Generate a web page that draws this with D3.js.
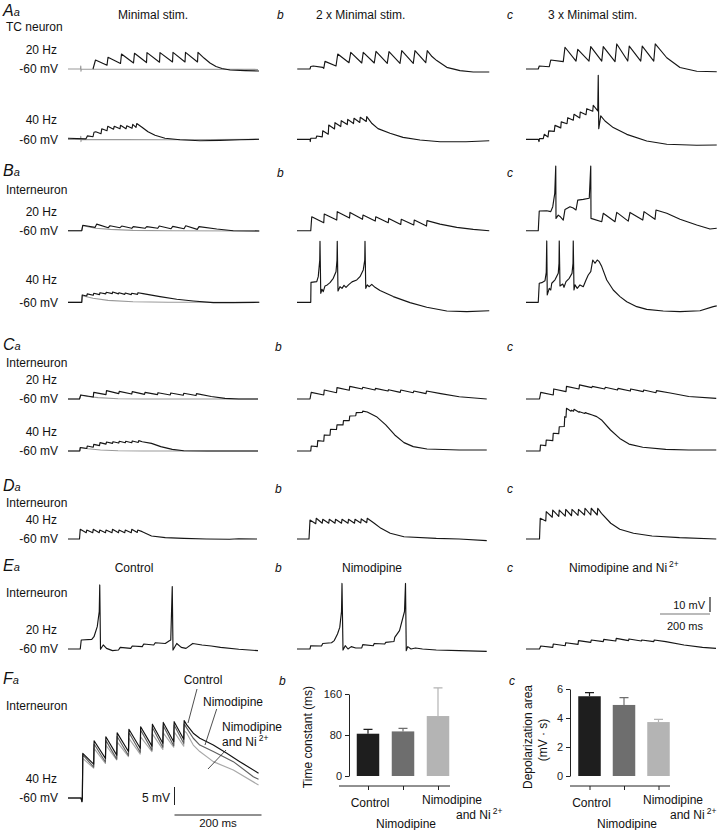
<!DOCTYPE html>
<html>
<head>
<meta charset="utf-8">
<script src="https://cdn.jsdelivr.net/npm/d3@7"></script>
<style>
body { margin: 0; background: #fff; }
svg { font-family: "Liberation Sans", Arial, sans-serif; }
.trace { fill: none; stroke-width: 1.15; stroke-linejoin: round; }
.axis text { font-size: 11px; fill: #222; }
.axis path, .axis line { stroke: #222; }
</style>
</head>
<body>
<svg width="720" height="830"></svg>
<script>
// every trace: [time (ms), depolarisation (mV above the -60 mV rest)]

// A  TC neuron
var A20a_gray = [[0,0],[50,0],[51,2],[52,-1.5],[53,0],[760,-0.3]];
var A20a = [[100,0],[110,6],[156,2.5],[160,7.8],[210,3.7],[214,10],[262,4],[266,10.5],[314,4.3],[316,10.9],[366,4.5],[368,10.9],[418,4.7],[420,11.1],[468,4.7],[470,11.1],[518,4.7],[520,11.1],[544,7.3],[568,4],[592,1.7],[616,0.3],[648,-0.7],[708,-1.1],[764,-1.3]];
var A40a_gray = [[0,0],[50,0],[51,2],[52,-1.5],[53,0],[400,-0.3],[764,0]];
var A40a = [[0,0.7],[72,0.3],[78,2.3],[100,1.7],[104,4.7],[111,5],[132,3.7],[135,7],[156,5.7],[159,8.7],[182,6.7],[185,8.7],[208,7],[210,9.3],[232,7],[235,9],[256,7.3],[259,10],[272,8],[275,10.5],[296,8],[320,5],[348,2.7],[388,0.7],[448,-0.3],[528,-1],[608,-0.7],[688,-0.3],[764,0]];
var A20b = [[1,0],[52,0],[55,1.7],[65,2],[103,1.1],[107,0.4],[112,5.1],[156,2],[163,10],[208,4.2],[215,11.1],[259,4],[265,11.1],[309,4],[316,11.8],[361,3.8],[368,11.6],[412,3.8],[419,12.2],[465,3.8],[472,12.2],[515,4.2],[521,12.2],[540,8.3],[559,5.6],[599,1.1],[652,-1.1],[705,-2],[769,-2]];
var A40b = [[0,0],[52,0],[53,-1.5],[55,0.7],[76,0.7],[79,2.2],[101,1.6],[103,5.7],[125,3.4],[127,9.5],[150,6.9],[152,11.1],[175,8.5],[177,12.4],[201,9.8],[203,13.3],[226,10.5],[228,14],[251,11.2],[253,14.7],[277,11.9],[279,15.1],[300,10.5],[324,7.1],[372,4],[424,1.3],[492,-0.5],[572,-1.6],[676,-1.6],[769,-1]];
var A20c = [[0,0],[49,0],[53,2],[93,1.5],[99,6],[149,4.9],[156,14.5],[200,5.3],[207,13.1],[252,5.3],[259,14.9],[303,5.3],[309,14.9],[356,4.9],[363,16.7],[407,5.3],[413,15.3],[459,5.3],[465,15.3],[511,5.3],[517,16.7],[563,7.5],[616,1],[683,-1.5],[763,-1.8]];
var A40c = [[0,0],[49,0],[52,-1.5],[54,0.5],[69,0.5],[73,3.3],[88,1.6],[91,5.6],[113,5.3],[116,9.3],[139,7.6],[141,11.6],[164,10.4],[167,14.4],[189,12.7],[192,16.7],[215,14.2],[217,18.2],[240,16.4],[243,20.4],[267,18.7],[269,22.7],[287,19],[289,42.7],[291,7.1],[299,15.6],[316,12.2],[349,7.8],[403,3.3],[483,-1.1],[563,-3.3],[683,-4],[763,-3.8]];

// B  interneuron
var B20a_gray = [[0,0],[55,0],[59,3.3],[110,1.6],[170,0.9],[260,0.2],[400,0],[765,-0.2]];
var B20a = [[0,0],[55,0],[59,3.6],[108,2.2],[115,4.4],[161,2],[168,3.3],[208,2],[215,3.1],[255,1.6],[261,2.7],[308,1.6],[315,2.7],[359,1.6],[365,3.1],[412,1.3],[419,2.9],[464,1.3],[471,3.3],[517,0.9],[524,2.7],[595,1.1],[661,0],[765,-0.2]];
var B40a_gray = [[0,0],[55,0],[57,4.4],[100,2.7],[160,1.3],[260,0.4],[400,0],[765,0]];
var B40a = [[0,0],[55,0],[57,4.9],[75,4.2],[77,5.6],[101,4.7],[103,6],[126,5.1],[128,6.4],[151,5.6],[153,6.7],[177,5.8],[179,6.9],[202,5.6],[204,6.4],[227,5.3],[229,6.2],[253,5.1],[255,6],[278,5.3],[280,6.4],[300,5.8],[368,3.8],[435,2],[501,0.9],[581,-0.2],[661,-0.2],[765,0]];
var B20b = [[0,0],[55,0],[59,9.3],[107,5.3],[109,11.1],[159,7.1],[161,12.7],[210,8.4],[212,12.2],[262,7.6],[264,10.4],[313,6.4],[315,9.3],[365,5.3],[367,8.2],[415,4.2],[417,7.6],[467,3.8],[469,7.1],[518,3.1],[520,6.7],[572,4.4],[639,2.2],[705,0.9],[769,0]];
var B40b = [[0,0],[55,0],[56,13.3],[79,13.8],[85,17.1],[91,28.2],[92,40.7],[95,6],[100,8.7],[105,7.1],[112,10.9],[121,11.6],[132,13.1],[145,16],[156,20.4],[160,28.2],[161,40.7],[164,7.6],[172,10.4],[180,9.3],[188,11.3],[196,10],[207,11.8],[220,13.6],[239,14.9],[252,17.1],[265,21.6],[271,28.2],[272,40.7],[275,9.3],[281,11.6],[289,10.4],[299,12],[312,10],[332,7.8],[385,3.8],[452,-0.2],[519,-3.3],[599,-5.8],[679,-6.2],[769,-5.6]];
var B20c = [[0,0],[49,0],[53,13.1],[83,13.3],[99,12.7],[107,16],[115,24.9],[119,43.1],[120,8.2],[129,10.4],[136,9.5],[149,7.1],[156,14.2],[176,16],[189,15.1],[200,13.8],[207,20.4],[229,20.9],[253,21.6],[259,43.1],[260,8.2],[303,6],[309,11.6],[356,6],[363,12.2],[409,6.4],[416,12.2],[467,7.1],[472,12.7],[516,7.6],[520,13.8],[563,11.6],[616,7.6],[683,3.8],[736,1.1],[763,1.6]];
var B40c = [[0,0],[49,0],[53,12.7],[63,13.1],[76,14.4],[81,20],[83,40.9],[85,4.9],[93,9.3],[99,8.2],[103,12.7],[116,15],[129,19.3],[132,26],[133,40.9],[136,10.9],[147,12.2],[152,10],[160,13.8],[173,16],[184,19.3],[188,26],[189,40.9],[192,8.2],[196,11.6],[205,9.3],[216,11.6],[229,10.4],[240,14.9],[249,18.2],[259,20.4],[267,28.2],[276,26],[285,28.2],[293,27.1],[303,23.8],[323,14.9],[349,8.2],[376,3.8],[403,0.4],[443,-2.9],[483,-4.7],[549,-5.8],[616,-6.2],[696,-5.6],[749,-2.9],[763,-2.4]];

// C  interneuron
var C20a_gray = [[0,0],[46,0],[51,2.5],[80,1.7],[120,0.9],[200,0.2],[300,0],[760,0]];
var C20a = [[0,0],[46,0],[51,2.7],[101,1.3],[103,4.4],[152,2.9],[154,5.6],[203,3.6],[205,5.1],[255,3.3],[257,4.9],[306,3.1],[308,4.4],[358,2.9],[360,4.2],[409,2.7],[411,4],[461,2.5],[463,3.8],[512,2.3],[514,3.6],[573,1.7],[628,0.4],[683,0],[760,0]];
var C40a_gray = [[0,0],[47,0],[49,2.3],[80,1.5],[130,0.7],[200,0.2],[300,0],[760,0]];
var C40a = [[0,0],[47,0],[49,2.3],[75,1.7],[77,3.3],[101,2.5],[103,4.4],[126,3.6],[128,5.6],[152,4.6],[154,6],[178,5.1],[180,6.2],[203,5.3],[205,6.5],[229,5.5],[231,6.5],[255,5.5],[257,6.7],[281,5.7],[283,6.9],[297,6.2],[334,5.1],[371,2.9],[417,1.1],[463,0.2],[560,0],[760,0]];
var C20b = [[0,0],[52,0],[57,4.4],[107,2.7],[109,6],[158,4.2],[160,7.6],[209,5.8],[211,8.4],[261,6.7],[263,7.8],[312,6],[314,7.1],[364,5.3],[366,6.2],[413,4.4],[415,6],[465,4.2],[467,5.3],[516,3.6],[518,5.3],[575,3.6],[649,1.5],[759,0]];
var C40b = [[0,0],[55,0],[57,3.3],[81,2.9],[83,6.9],[107,6.5],[109,10.7],[132,10.5],[134,14.4],[158,14.3],[160,17.4],[184,17.4],[186,20.3],[209,20.3],[211,23.3],[235,23.5],[237,25.6],[261,25.7],[263,26.6],[281,26],[318,22.9],[355,17.4],[391,10.7],[428,5.6],[465,2.9],[520,1.3],[649,0.7],[759,0.7]];
var C20c = [[0,0],[54,0],[59,4.4],[109,2.7],[111,6.7],[160,4.9],[162,8.4],[212,6.7],[214,9.4],[263,7.6],[265,8.4],[315,6.7],[317,7.8],[366,6],[368,7.1],[417,5.3],[419,6.7],[469,4.9],[471,6],[520,4.2],[522,5.6],[577,4],[651,1.7],[761,0.4]];
var C40c = [[0,0],[56,0],[58,4],[79,3.6],[81,7.3],[107,6.9],[109,11.8],[131,11.6],[133,16.2],[153,16.3],[155,22.9],[160,22.5],[162,28.5],[180,26.5],[182,27.2],[190,26.5],[192,27.8],[212,25.8],[214,26.2],[235,25],[237,25.6],[245,25.1],[265,24],[283,22.9],[302,20.7],[338,14],[375,8.4],[412,4.6],[467,2.5],[559,1.1],[651,0.7],[761,0.7]];

// D  interneuron, 40 Hz
var Da = [[0,0],[46,0],[49,6.5],[73,4.2],[75,6],[99,4.2],[101,6.5],[125,4.2],[127,6],[150,4.2],[152,6],[176,4.2],[178,6.5],[202,4.2],[204,6],[227,4.2],[229,6],[253,4.2],[255,6.5],[277,4.4],[279,6],[297,4.9],[334,2],[389,0.9],[463,0.4],[554,0],[646,-0.2],[683,0.2],[756,0]];
var Db = [[0,0],[48,0],[52,12.6],[75,10.2],[77,13.8],[101,10.5],[103,13.1],[127,10.5],[129,13.1],[152,10.5],[154,13.1],[178,10.5],[180,13.1],[204,10.5],[206,13.1],[230,10.5],[232,13.1],[255,10.7],[257,13.4],[279,10.9],[281,13.8],[309,10.5],[336,7.1],[373,3.8],[428,1.5],[557,0.4],[649,0],[759,-1.1]];
var Dc = [[0,0],[54,0],[57,13.8],[79,12],[81,18.2],[105,14.5],[107,19.3],[131,15.1],[133,19.3],[157,15.3],[159,19.7],[182,15.5],[184,19.7],[208,15.8],[210,19.7],[234,16],[236,20.5],[259,16],[261,20.5],[285,16],[287,20.5],[302,17.1],[339,10.5],[375,6.5],[430,3.8],[504,2],[614,0.9],[761,0]];

// E  interneuron, 20 Hz: control, nimodipine, nimodipine + Ni2+
var Ea = [[0,0],[49,0],[53,6],[95,6.4],[104,8.2],[117,14.9],[125,25],[127,42.7],[130,-0.2],[141,2.7],[154,0.4],[178,-1.1],[202,-0.7],[209,1.1],[251,0.4],[257,2],[297,1.6],[303,3.3],[343,2.7],[349,4.2],[389,3.7],[404,5.4],[411,6],[417,41.6],[420,-0.7],[435,3.7],[453,1.1],[472,0.4],[499,3.7],[536,2.7],[573,2],[610,1.1],[683,-0.2],[760,-1.1]];
var Eb = [[0,0],[52,0],[55,2.2],[98,2],[103,3.7],[138,4.2],[149,5.6],[162,10],[171,14.4],[178,25],[180,43.7],[184,-0.7],[193,2.2],[204,0],[217,1.6],[235,0.7],[259,0.7],[263,2.9],[305,2.2],[309,3.7],[351,3.3],[355,4.4],[388,5],[391,7.7],[410,12.2],[430,25],[434,43.7],[437,-1.1],[443,1.6],[456,0],[474,0.7],[502,0],[557,-0.7],[649,-1.1],[759,-1.6]];
var Ec = [[0,0],[54,0],[59,2],[107,1.1],[109,3.3],[157,2.2],[159,4.2],[208,3.1],[210,5.6],[259,4.4],[261,6],[309,4.9],[311,6.4],[359,5.3],[361,7.1],[410,5.6],[412,6.7],[461,5.3],[463,6],[511,4.9],[513,6],[559,4.9],[632,2.7],[706,1.1],[760,0.4]];

// F  interneuron, 40 Hz overlay
var Fcontrol = [[0,0],[30,0],[32,-1],[33,0],[34,12.4],[59,9.4],[60,15.9],[86,11],[87,17],[112,11.9],[113,18.1],[139,12.9],[140,19.1],[166,13.8],[167,19.8],[193,14.4],[194,20.5],[218,15.2],[219,21],[243,15.6],[244,21.2],[266,16.3],[267,21.5],[273,20.3],[288,18],[303,16.6],[334,14.7],[365,12.4],[395,10.1],[438,6.9]];
var Fnimodipine = [[0,0],[30,0],[32,-1],[33,0],[34,12],[59,8.6],[60,15],[86,10],[87,16],[112,10.8],[113,17.1],[139,11.8],[140,18.2],[166,12.7],[167,18.9],[193,13.3],[194,19.6],[218,14.1],[219,20.1],[243,14.5],[244,20.3],[266,15.2],[267,20.6],[273,19.4],[288,16.6],[303,14.7],[334,12.9],[380,10.1],[426,5.9],[438,5.2]];
var Fnickel = [[0,0],[30,0],[32,-1],[33,0],[34,11],[59,8.3],[60,13.8],[86,9.6],[87,14.7],[112,10.6],[113,15.6],[139,11.5],[140,16.6],[166,12.2],[167,17],[193,12.9],[194,17.8],[218,13.5],[219,18.1],[243,14.1],[244,18.4],[266,14.4],[267,18.7],[273,18],[288,14.7],[303,12.9],[334,10.1],[380,7.8],[438,3.6]];

// bar charts
var drugs = ["Control", "Nimodipine", "Nimodipine and Ni2+"];
var tauMean = [82.5, 87, 117];
var tauSem = [8.5, 6, 55];
var areaMean = [5.5, 4.9, 3.72];
var areaSem = [0.25, 0.5, 0.18];
var tauTicks = [0, 80, 160];
var areaTicks = [0, 2, 4, 6];

var BLACK = "#161616", GRAY = "#9a9a9a";
var barColors = ["#1e1e1e", "#6e6e6e", "#b4b4b4"];
var fColors = ["#111111", "#5e5e5e", "#a8a8a8"];

var svg = d3.select("svg");
var colX = [68, 297, 526];

// A-E share one scale: 200 ms = 50 px, 10 mV = 15 px
var xTime = d3.scaleLinear().domain([0, 768]).range([0, 192]);

function drawTrace(data, x0, base, color, xs, mvPx) {
    var y = d3.scaleLinear().domain([0, 10]).range([base, base - 10 * mvPx]);
    var line = d3.line()
        .x(function(d) { return x0 + xs(d[0]); })
        .y(function(d) { return y(d[1]); });
    svg.append("path")
        .attr("class", "trace")
        .attr("stroke", color)
        .attr("d", line(data));
}

function text(x, y, s, opt) {
    opt = opt || {};
    var t = svg.append("text")
        .attr("x", x).attr("y", y)
        .attr("font-size", opt.size || 12)
        .attr("text-anchor", opt.anchor || "start")
        .attr("fill", "#111")
        .text(s);
    if (opt.italic) t.attr("font-style", "italic");
    return t;
}

function panelLetter(x, y, big, small) {
    var t = svg.append("text").attr("x", x).attr("y", y)
        .attr("font-style", "italic").attr("fill", "#111");
    t.append("tspan").attr("font-size", 16).text(big);
    t.append("tspan").attr("font-size", 11).text(small);
}

function niText(x, y, before, anchor) {
    var t = svg.append("text").attr("x", x).attr("y", y)
        .attr("font-size", 12).attr("fill", "#111")
        .attr("text-anchor", anchor || "start");
    t.append("tspan").text(before + "Ni");
    t.append("tspan").attr("font-size", 8.5).attr("dy", -5).attr("dx", 2).text("2+");
    return t;
}

function rowLabels(yHz, hz, yMv) {
    text(57, yHz, hz, {anchor: "end"});
    text(58, yMv, "-60 mV", {anchor: "end"});
}

var rows = [
    {base: 69, traces: [[A20a_gray, 0, GRAY], [A20a, 0, BLACK], [A20b, 1, BLACK], [A20c, 2, BLACK]]},
    {base: 139.3, traces: [[A40a_gray, 0, GRAY], [A40a, 0, BLACK], [A40b, 1, BLACK], [A40c, 2, BLACK]]},
    {base: 230.7, traces: [[B20a_gray, 0, GRAY], [B20a, 0, BLACK], [B20b, 1, BLACK], [B20c, 2, BLACK]]},
    {base: 302.3, traces: [[B40a_gray, 0, GRAY], [B40a, 0, BLACK], [B40b, 1, BLACK], [B40c, 2, BLACK]]},
    {base: 399, traces: [[C20a_gray, 0, GRAY], [C20a, 0, BLACK], [C20b, 1, BLACK], [C20c, 2, BLACK]]},
    {base: 451, traces: [[C40a_gray, 0, GRAY], [C40a, 0, BLACK], [C40b, 1, BLACK], [C40c, 2, BLACK]]},
    {base: 539, traces: [[Da, 0, BLACK], [Db, 1, BLACK], [Dc, 2, BLACK]]},
    {base: 649, traces: [[Ea, 0, BLACK], [Eb, 1, BLACK], [Ec, 2, BLACK]]}
];
rows.forEach(function(r) {
    r.traces.forEach(function(t) {
        drawTrace(t[0], colX[t[1]], r.base, t[2], xTime, 1.5);
    });
});

// ---- labels rows A-E
panelLetter(3, 16, "A", "a");
text(6, 31, "TC neuron");
text(153, 19, "Minimal stim.", {anchor: "middle"});
text(277, 19, "b", {italic: true});
text(316, 19, "2 x Minimal stim.");
text(507, 19, "c", {italic: true});
text(548, 19, "3 x Minimal stim.");
rowLabels(53.5, "20 Hz", 73);
rowLabels(123.5, "40 Hz", 143.5);

panelLetter(3, 176, "B", "a");
text(6, 194, "Interneuron");
text(277, 177, "b", {italic: true});
text(507, 177, "c", {italic: true});
rowLabels(216, "20 Hz", 235);
rowLabels(283.5, "40 Hz", 306.5);

panelLetter(3, 350, "C", "a");
text(6, 367, "Interneuron");
text(275, 351, "b", {italic: true});
text(507, 351, "c", {italic: true});
rowLabels(384, "20 Hz", 403);
rowLabels(436, "40 Hz", 455);

panelLetter(3, 491, "D", "a");
text(6, 507, "Interneuron");
text(275, 493, "b", {italic: true});
text(507, 493, "c", {italic: true});
rowLabels(524, "40 Hz", 543);

panelLetter(3, 571, "E", "a");
text(134, 572, "Control", {anchor: "middle"});
text(275, 572, "b", {italic: true});
text(372, 572, "Nimodipine", {anchor: "middle"});
text(507, 572, "c", {italic: true});
niText(569, 572, "Nimodipine and ");
text(6, 597, "Interneuron");
rowLabels(634, "20 Hz", 653);

// E scale bar: 10 mV and 200 ms
var barX = 710;
var yBar = d3.scaleLinear().domain([0, 10]).range([612, 597]);
svg.append("line").attr("x1", barX).attr("x2", barX).attr("y1", yBar(0)).attr("y2", yBar(10))
    .attr("stroke", "#222").attr("stroke-width", 1.2);
svg.append("line").attr("x1", barX - xTime(200)).attr("x2", barX).attr("y1", 614).attr("y2", 614)
    .attr("stroke", "#777").attr("stroke-width", 1.2);
text(barX - 5, 609, "10 mV", {anchor: "end", size: 11});
text(barX - xTime(100), 630, "200 ms", {anchor: "middle", size: 11});

// ---- F a : overlay, own scale (200 ms = 87 px, 5 mV = 18 px)
var fx0 = 68, fBase = 798;
var xF = d3.scaleLinear().domain([0, 200]).range([0, 87]);
drawTrace(Fnickel, fx0, fBase, fColors[2], xF, 3.6);
drawTrace(Fnimodipine, fx0, fBase, fColors[1], xF, 3.6);
drawTrace(Fcontrol, fx0, fBase, fColors[0], xF, 3.6);

panelLetter(3, 684, "F", "a");
text(6, 710, "Interneuron");
rowLabels(783, "40 Hz", 802);
text(203, 684, "Control", {anchor: "middle"});
text(203, 706, "Nimodipine");
text(222, 731, "Nimodipine");
niText(222, 746, "and ");
[[197, 689, 188, 723], [216.7, 709, 205, 745], [226, 750, 208, 769]].forEach(function(p) {
    svg.append("line").attr("x1", p[0]).attr("y1", p[1]).attr("x2", p[2]).attr("y2", p[3])
        .attr("stroke", "#222").attr("stroke-width", 0.8);
});
var yFbar = d3.scaleLinear().domain([0, 5]).range([805, 787]);
svg.append("line").attr("x1", 174.5).attr("x2", 174.5).attr("y1", yFbar(0)).attr("y2", yFbar(5))
    .attr("stroke", "#222").attr("stroke-width", 1);
svg.append("line").attr("x1", 174.5).attr("x2", 174.5 + xF(200)).attr("y1", 815).attr("y2", 815)
    .attr("stroke", "#222").attr("stroke-width", 1);
text(170, 802, "5 mV", {anchor: "end"});
text(174.5 + xF(100), 827, "200 ms", {anchor: "middle", size: 11.5});

// ---- F b, F c : bar charts
function barChart(opt) {
    var y = d3.scaleLinear().domain(opt.domain).range([776, opt.top]);
    var x = d3.scalePoint().domain(drugs).range(opt.xRange);
    var bw = 22.5;
    var g = svg.append("g");
    g.selectAll(".err").data(drugs).enter().append("path")
        .attr("fill", "none").attr("stroke", function(d, i) { return barColors[i]; })
        .attr("stroke-width", 1.2)
        .attr("d", function(d, i) {
            var cx = x(d), top = y(opt.mean[i] + opt.sem[i]);
            return "M" + cx + "," + y(opt.mean[i]) + "V" + top + "M" + (cx - 4.5) + "," + top + "H" + (cx + 4.5);
        });
    g.selectAll(".bar").data(drugs).enter().append("rect")
        .attr("x", function(d) { return x(d) - bw / 2; })
        .attr("width", bw)
        .attr("y", function(d, i) { return y(opt.mean[i]); })
        .attr("height", function(d, i) { return 776 - y(opt.mean[i]); })
        .attr("fill", function(d, i) { return barColors[i]; });
    svg.append("g").attr("class", "axis")
        .attr("transform", "translate(" + opt.yAxisX + ",0)")
        .call(d3.axisLeft(y).tickValues(opt.ticks).tickFormat(d3.format("d"))
            .tickSize(4).tickSizeOuter(0).tickPadding(3));
    var xa = svg.append("g").attr("class", "axis")
        .attr("transform", "translate(0,786)")
        .call(d3.axisBottom(x).tickSize(4).tickFormat(""));
    xa.select(".domain").remove();
    svg.append("line").attr("x1", opt.xLine[0]).attr("x2", opt.xLine[1])
        .attr("y1", 786).attr("y2", 786).attr("stroke", "#222");
    text(x(drugs[0]) + 2, 807, "Control", {anchor: "middle"});
    text(x(drugs[1]) + 3, 828, "Nimodipine", {anchor: "middle"});
    text(opt.nimX, 804, "Nimodipine");
    niText(opt.niX, 819, "and ");
}

text(279, 685, "b", {italic: true});
barChart({domain: [0, 160], top: 694, xRange: [368, 438], mean: tauMean, sem: tauSem,
          ticks: tauTicks, yAxisX: 349, xLine: [339, 450], nimX: 422, niX: 456});
svg.append("text").attr("transform", "translate(312,737) rotate(-90)")
    .attr("text-anchor", "middle").attr("font-size", 12).attr("fill", "#111")
    .text("Time constant (ms)");

text(509, 685, "c", {italic: true});
barChart({domain: [0, 6], top: 689, xRange: [589.5, 658.5], mean: areaMean, sem: areaSem,
          ticks: areaTicks, yAxisX: 570, xLine: [570, 670], nimX: 643, niX: 670});
svg.append("text").attr("transform", "translate(532,737) rotate(-90)")
    .attr("text-anchor", "middle").attr("font-size", 12).attr("fill", "#111")
    .text("Depolarization area");
svg.append("text").attr("transform", "translate(547,740) rotate(-90)")
    .attr("text-anchor", "middle").attr("font-size", 12).attr("fill", "#111")
    .text("(mV · s)");
</script>
</body>
</html>
